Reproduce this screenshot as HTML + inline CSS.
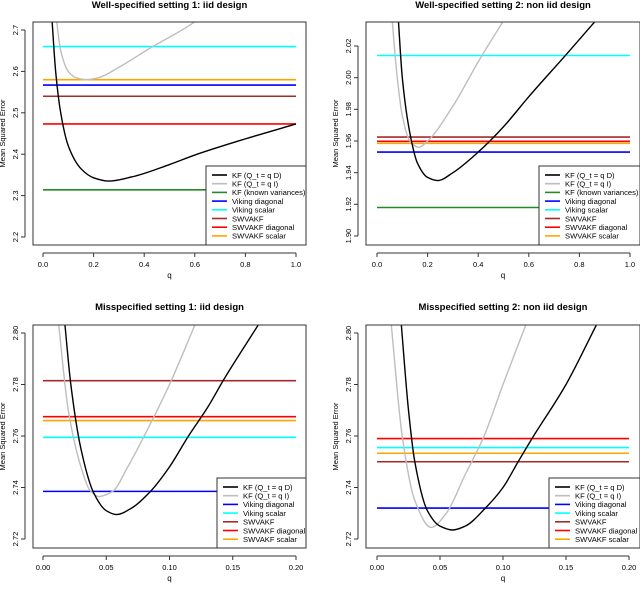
<!DOCTYPE html>
<html><head><meta charset="utf-8"><style>
html,body{margin:0;padding:0;background:#fff}
svg text{font-family:"Liberation Sans",sans-serif}
</style></head><body>
<svg id="chart" width="640" height="584" viewBox="0 0 640 584" xmlns="http://www.w3.org/2000/svg"></svg>
<script>
// Panel 1 data
const p1Title = "Well-specified setting 1: iid design";
const p1XTicks = [0, 0.2, 0.4, 0.6, 0.8, 1.0];
const p1XTickLabels = ["0.0","0.2","0.4","0.6","0.8","1.0"];
const p1YTicks = [2.2, 2.3, 2.4, 2.5, 2.6, 2.7];
const p1YTickLabels = ["2.2","2.3","2.4","2.5","2.6","2.7"];
const p1KfDq = [0.035,0.05,0.07,0.1,0.15,0.2,0.26,0.35,0.5,0.6,0.8,1.0];
const p1KfDv = [2.73,2.6,2.5,2.42,2.365,2.343,2.335,2.345,2.375,2.398,2.437,2.473];
const p1KfIq = [0.052,0.07,0.1,0.13,0.17,0.22,0.3,0.42,0.6,0.62];
const p1KfIv = [2.73,2.65,2.6,2.585,2.58,2.585,2.61,2.655,2.72,2.73];
const p1HNames = ["KF (known variances)","Viking diagonal","Viking scalar","SWVAKF","SWVAKF diagonal","SWVAKF scalar"];
const p1HValues = [2.314,2.567,2.66,2.54,2.473,2.58];

// Panel 2 data
const p2Title = "Well-specified setting 2: non iid design";
const p2XTicks = [0, 0.2, 0.4, 0.6, 0.8, 1.0];
const p2XTickLabels = ["0.0","0.2","0.4","0.6","0.8","1.0"];
const p2YTicks = [1.90,1.92,1.94,1.96,1.98,2.00,2.02];
const p2YTickLabels = ["1.90","1.92","1.94","1.96","1.98","2.00","2.02"];
const p2KfDq = [0.083,0.1,0.13,0.16,0.2,0.24,0.3,0.4,0.5,0.6,0.75,0.87];
const p2KfDv = [2.04,2.0,1.965,1.946,1.937,1.935,1.94,1.953,1.969,1.988,2.015,2.037];
const p2KfIq = [0.058,0.08,0.1,0.13,0.165,0.2,0.3,0.4,0.5];
const p2KfIv = [2.04,2.0,1.976,1.96,1.956,1.96,1.982,2.01,2.036];
const p2HNames = ["KF (known variances)","Viking diagonal","Viking scalar","SWVAKF","SWVAKF diagonal","SWVAKF scalar"];
const p2HValues = [1.918,1.953,2.014,1.9625,1.9598,1.9585];

// Panel 3 data
const p3Title = "Misspecified setting 1: iid design";
const p3XTicks = [0,0.05,0.1,0.15,0.2];
const p3XTickLabels = ["0.00","0.05","0.10","0.15","0.20"];
const p3YTicks = [2.72,2.74,2.76,2.78,2.80];
const p3YTickLabels = ["2.72","2.74","2.76","2.78","2.80"];
const p3KfDq = [0.017,0.022,0.03,0.04,0.05,0.058,0.07,0.085,0.1,0.115,0.13,0.143,0.17];
const p3KfDv = [2.805,2.78,2.755,2.738,2.731,2.7295,2.732,2.7385,2.748,2.76,2.771,2.782,2.803];
const p3KfIq = [0.012,0.02,0.03,0.037,0.044,0.055,0.067,0.08,0.1,0.12];
const p3KfIv = [2.805,2.77,2.748,2.739,2.7365,2.7385,2.748,2.76,2.78,2.803];
const p3HNames = ["Viking diagonal","Viking scalar","SWVAKF","SWVAKF diagonal","SWVAKF scalar"];
const p3HValues = [2.7385,2.7595,2.7815,2.7675,2.766];

// Panel 4 data
const p4Title = "Misspecified setting 2: non iid design";
const p4XTicks = [0,0.05,0.1,0.15,0.2];
const p4XTickLabels = ["0.00","0.05","0.10","0.15","0.20"];
const p4YTicks = [2.72,2.74,2.76,2.78,2.80];
const p4YTickLabels = ["2.72","2.74","2.76","2.78","2.80"];
const p4KfDq = [0.019,0.025,0.03,0.04,0.05,0.06,0.07,0.086,0.1,0.112,0.123,0.15,0.174];
const p4KfDv = [2.805,2.77,2.75,2.731,2.725,2.7235,2.725,2.732,2.74,2.75,2.759,2.78,2.803];
const p4KfIq = [0.011,0.02,0.03,0.043,0.055,0.07,0.085,0.1,0.118];
const p4KfIv = [2.805,2.76,2.735,2.7245,2.73,2.745,2.76,2.78,2.803];
const p4HNames = ["Viking diagonal","Viking scalar","SWVAKF","SWVAKF diagonal","SWVAKF scalar"];
const p4HValues = [2.732,2.7555,2.750,2.759,2.7533];

const NS="http://www.w3.org/2000/svg";
const svg=document.getElementById('chart');
const colorOf={"KF (Q_t = q D)":"#000","KF (Q_t = q I)":"#bebebe","KF (known variances)":"#228b22","Viking diagonal":"#0000ff","Viking scalar":"#00ffff","SWVAKF":"#a52a2a","SWVAKF diagonal":"#ff0000","SWVAKF scalar":"#ffa500"};
function mk(tag,attrs,parent){const e=document.createElementNS(NS,tag);for(const k in attrs)e.setAttribute(k,attrs[k]);(parent||svg).appendChild(e);return e;}
function slug(s){return s.toLowerCase().replace(/[^a-z0-9]+/g,'-').replace(/^-|-$/g,'');}
// monotone cubic (Fritsch-Carlson) in x
function spline(pts){
  const n=pts.length,d=[],m=[];
  for(let i=0;i<n-1;i++)d.push((pts[i+1][1]-pts[i][1])/(pts[i+1][0]-pts[i][0]));
  m[0]=d[0];m[n-1]=d[n-2];
  for(let i=1;i<n-1;i++){if(d[i-1]*d[i]<=0)m[i]=0;else{const h0=pts[i][0]-pts[i-1][0],h1=pts[i+1][0]-pts[i][0];const w1=2*h1+h0,w2=h1+2*h0;m[i]=(w1+w2)/(w1/d[i-1]+w2/d[i]);}}
  let s='M'+pts[0][0]+','+pts[0][1];
  for(let i=0;i<n-1;i++){const h=(pts[i+1][0]-pts[i][0])/3;
    s+=' C'+(pts[i][0]+h)+','+(pts[i][1]+m[i]*h)+' '+(pts[i+1][0]-h)+','+(pts[i+1][1]-m[i+1]*h)+' '+pts[i+1][0]+','+pts[i+1][1];}
  return s;}

function panel(id,c){
  const g=mk('g',{});
  
  
  const xs=v=>c.x0+(v-c.xt[0])/(c.xt[c.xt.length-1]-c.xt[0])*(c.x1-c.x0);
  const ys=v=>c.y0+(v-c.yt[0])/(c.yt[c.yt.length-1]-c.yt[0])*(c.y1-c.y0);
  const t=mk('text',{x:(c.bx0+c.bx1)/2,y:c.titleY,'text-anchor':'middle','font-size':'9.5','font-weight':'bold'},g);t.textContent=c.title;
  
  const cp=mk('clipPath',{id:'clip-'+id},g);mk('rect',{x:c.bx0,y:c.by0,width:c.bx1-c.bx0,height:c.by1-c.by0},cp);
  const pg=mk('g',{'clip-path':'url(#clip-'+id+')'},g);
  c.hn.forEach((n,i)=>{const l=mk('line',{x1:xs(c.xt[0]),x2:xs(c.xt[c.xt.length-1]),y1:ys(c.hv[i]),y2:ys(c.hv[i]),stroke:colorOf[n],'stroke-width':'1.6'},pg);
    });
  const ci=mk('path',{d:spline(c.iq.map((q,i)=>[xs(q),ys(c.iv[i])])),fill:'none',stroke:'#bebebe','stroke-width':'1.4'},pg);
  
  const cd=mk('path',{d:spline(c.dq.map((q,i)=>[xs(q),ys(c.dv[i])])),fill:'none',stroke:'#000','stroke-width':'1.4'},pg);
  
  const b=mk('rect',{x:c.bx0,y:c.by0,width:c.bx1-c.bx0,height:c.by1-c.by0,fill:'none',stroke:'#333','stroke-width':'1'},g);
  
  mk('line',{x1:xs(c.xt[0]),x2:xs(c.xt[c.xt.length-1]),y1:c.by1+8,y2:c.by1+8,stroke:'#333'},g);
  c.xt.forEach((v,i)=>{mk('line',{x1:xs(v),x2:xs(v),y1:c.by1+8,y2:c.by1+12,stroke:'#333'},g);
    const tx=mk('text',{x:xs(v),y:c.by1+22,'text-anchor':'middle','font-size':'7.5'},g);tx.textContent=c.xl[i];
    });
  const xl=mk('text',{x:(c.bx0+c.bx1)/2,y:c.by1+33,'text-anchor':'middle','font-size':'8'},g);xl.textContent='q';
  
  mk('line',{x1:c.bx0-8,x2:c.bx0-8,y1:ys(c.yt[0]),y2:ys(c.yt[c.yt.length-1]),stroke:'#333'},g);
  c.yt.forEach((v,i)=>{mk('line',{x1:c.bx0-12,x2:c.bx0-8,y1:ys(v),y2:ys(v),stroke:'#333'},g);
    const tx=mk('text',{x:c.bx0-15,y:ys(v),'text-anchor':'middle','font-size':'7.5',transform:'rotate(-90 '+(c.bx0-15)+' '+ys(v)+')'},g);tx.textContent=c.yl[i];
    });
  const ytx=c.bx0-28,yty=(c.by0+c.by1)/2;
  const yt=mk('text',{x:ytx,y:yty,'text-anchor':'middle','font-size':'7.5',transform:'rotate(-90 '+ytx+' '+yty+')'},g);yt.textContent='Mean Squared Error';
  
  const names=["KF (Q_t = q D)","KF (Q_t = q I)"].concat(c.legendNames);
  const lg=mk('g',{},g);
  mk('rect',{x:c.lx,y:c.ly,width:c.bx1-c.lx,height:c.by1-c.ly,fill:'#fff',stroke:'#333','stroke-width':'1'},lg);
  names.forEach((n,i)=>{const yy=c.ly+9+i*8.7;const e=mk('g',{},lg);
    
    mk('line',{x1:c.lx+6,x2:c.lx+21,y1:yy,y2:yy,stroke:colorOf[n],'stroke-width':'1.6'},e);
    const tx=mk('text',{x:c.lx+26,y:yy+2.8,'font-size':'7.6'},e);tx.textContent=n;});
}
const allNames=["KF (known variances)","Viking diagonal","Viking scalar","SWVAKF","SWVAKF diagonal","SWVAKF scalar"];
const misNames=["Viking diagonal","Viking scalar","SWVAKF","SWVAKF diagonal","SWVAKF scalar"];
panel('panel-well-specified-1',{title:p1Title,titleY:8,bx0:33,bx1:306,by0:22,by1:245,x0:43,x1:296,y0:237,y1:30,xt:p1XTicks,xl:p1XTickLabels,yt:p1YTicks,yl:p1YTickLabels,dq:p1KfDq,dv:p1KfDv,iq:p1KfIq,iv:p1KfIv,hn:p1HNames,hv:p1HValues,lx:206,ly:166,legendNames:allNames});
panel('panel-well-specified-2',{title:p2Title,titleY:8,bx0:366,bx1:640,by0:22,by1:245,x0:377,x1:630,y0:236,y1:46,xt:p2XTicks,xl:p2XTickLabels,yt:p2YTicks,yl:p2YTickLabels,dq:p2KfDq,dv:p2KfDv,iq:p2KfIq,iv:p2KfIv,hn:p2HNames,hv:p2HValues,lx:539,ly:166,legendNames:allNames});
panel('panel-misspecified-1',{title:p3Title,titleY:310,bx0:33,bx1:306,by0:325,by1:548,x0:43,x1:296,y0:539,y1:333,xt:p3XTicks,xl:p3XTickLabels,yt:p3YTicks,yl:p3YTickLabels,dq:p3KfDq,dv:p3KfDv,iq:p3KfIq,iv:p3KfIv,hn:p3HNames,hv:p3HValues,lx:217,ly:478,legendNames:misNames});
panel('panel-misspecified-2',{title:p4Title,titleY:310,bx0:366,bx1:640,by0:325,by1:548,x0:377,x1:629,y0:539,y1:333,xt:p4XTicks,xl:p4XTickLabels,yt:p4YTicks,yl:p4YTickLabels,dq:p4KfDq,dv:p4KfDv,iq:p4KfIq,iv:p4KfIv,hn:p4HNames,hv:p4HValues,lx:549,ly:478,legendNames:misNames});
</script>
</body></html>
